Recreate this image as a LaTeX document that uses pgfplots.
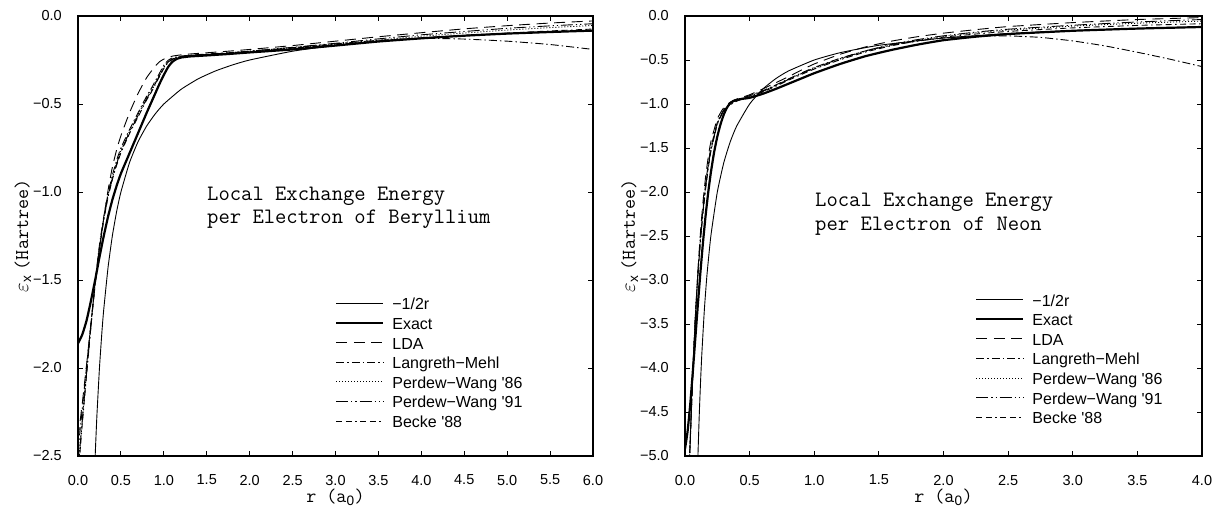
\documentclass[border=0pt]{standalone}
\usepackage{pgfplots}
\pgfplotsset{compat=1.18}
\usepackage{fontspec}
\setmainfont{Liberation Sans}[Ligatures=TeXOff]

\tikzset{
  halfr/.style={line width=0.9pt, solid},
  exact/.style={line width=2.2pt, solid},
  lda/.style={line width=0.9pt, dash pattern=on 11pt off 6.5pt},
  lm/.style={line width=0.9pt, dash pattern=on 8pt off 3pt on 1.5pt off 3pt},
  pw86/.style={line width=0.9pt, dash pattern=on 1pt off 2pt},
  pw91/.style={line width=0.9pt, dash pattern=on 12pt off 3pt on 1.2pt off 3pt on 1.2pt off 3pt},
  b88/.style={line width=0.9pt, dash pattern=on 6pt off 3.5pt on 6pt off 3.5pt on 1.5pt off 3.5pt},
  note/.style={anchor=base west, inner sep=0pt, font=\ttfamily\fontsize{22}{24}\selectfont},
}

\pgfplotsset{
  exchange/.style={
    scale only axis, height=440pt,
    axis line style={line width=1.2pt},
    tick align=inside, major tick length=5pt,
    every tick/.style={black, line width=0.9pt},
    tick label style={font=\fontsize{14.5}{17}\selectfont},
    xticklabel style={inner sep=0pt, anchor=north, yshift=-18.8pt},
    yticklabel style={inner sep=0pt, anchor=east, xshift=-16pt},
    every axis plot/.append style={black, smooth, tension=0.3},
    no markers, clip=true,
    every axis y label/.style={at={(axis description cs:-0.107,0.5)}, rotate=90, anchor=center,
      font=\fontsize{19.5}{22}\selectfont},
    every axis x label/.style={at={(axis description cs:0.5,-0.093)}, anchor=center,
      font=\fontsize{19.5}{22}\selectfont},
    ylabel={$\varepsilon$\textsubscript{x} {\ttfamily (Hartree)}},
    xlabel={{\ttfamily r (a}\textsubscript{0}{\ttfamily )}},
    legend cell align=left,
    legend image code/.code={\draw[##1] (0pt,0.36em) -- (47pt,0.36em);},
    legend style={draw=none, fill=none, inner sep=0pt, anchor=north west,
      font=\fontsize{16}{19}\selectfont,
      nodes={inner sep=0pt, text height=12.6pt, text depth=7pt},
      /tikz/every odd column/.append style={column sep=8pt}},
  },
}

\begin{document}
\begin{tikzpicture}
\useasboundingbox (-78pt,-56pt) rectangle (1138pt,456pt);

% ---------------- Beryllium ----------------
\begin{axis}[exchange, width=515pt,
  xmin=0, xmax=6, ymin=-2.5, ymax=0,
  xtick={0,0.5,...,6},
  xticklabels={0.0,0.5,1.0,1.5,2.0,2.5,3.0,3.5,4.0,4.5,5.0,5.5,6.0},
  ytick={-2.5,-2,-1.5,-1,-0.5,0},
  yticklabels={−2.5,−2.0,−1.5,−1.0,−0.5,0.0},
  legend style={at={(rel axis cs:0.499,0.3613)}},
]
\addplot[halfr] coordinates {(0.19,-2.632) (0.2,-2.5) (0.22,-2.273) (0.25,-2.0) (0.28,-1.786) (0.3,-1.667) (0.35,-1.429) (0.4,-1.25) (0.45,-1.111) (0.5,-1.0) (0.6,-0.833) (0.7,-0.714) (0.8,-0.625) (0.9,-0.556) (1.0,-0.5) (1.2,-0.417) (1.4,-0.357) (1.6,-0.3125) (1.8,-0.278) (2.0,-0.25) (2.5,-0.2) (3.0,-0.1667) (3.5,-0.1429) (4.0,-0.125) (4.5,-0.111) (5.0,-0.1) (5.5,-0.0909) (6.0,-0.0833)};
\addlegendentry{−1/2r}
\addplot[exact] coordinates {(0,-1.86) (0.05,-1.81) (0.1,-1.73) (0.15,-1.62) (0.2,-1.50) (0.25,-1.37) (0.3,-1.25) (0.35,-1.14) (0.4,-1.045) (0.45,-0.965) (0.5,-0.895) (0.6,-0.78) (0.7,-0.665) (0.8,-0.55) (0.85,-0.495) (0.9,-0.44) (0.95,-0.385) (1.0,-0.335) (1.05,-0.29) (1.1,-0.26) (1.15,-0.244) (1.2,-0.236) (1.3,-0.23) (1.5,-0.224) (1.75,-0.216) (2.0,-0.207) (2.5,-0.19) (3.0,-0.168) (3.5,-0.145) (4.0,-0.127) (4.5,-0.112) (5.0,-0.100) (5.5,-0.091) (6.0,-0.083)};
\addlegendentry{Exact}
\addplot[lda] coordinates {(0,-2.40) (0.05,-2.20) (0.1,-1.98) (0.15,-1.75) (0.2,-1.53) (0.25,-1.33) (0.3,-1.15) (0.35,-0.99) (0.4,-0.86) (0.45,-0.76) (0.5,-0.68) (0.6,-0.55) (0.7,-0.44) (0.8,-0.35) (0.9,-0.285) (0.95,-0.26) (1.0,-0.245) (1.1,-0.228) (1.25,-0.218) (1.5,-0.209) (1.75,-0.2) (2.0,-0.19) (2.5,-0.168) (3.0,-0.143) (3.5,-0.118) (4.0,-0.095) (4.5,-0.073) (5.0,-0.055) (5.5,-0.04) (6.0,-0.028)};
\addlegendentry{LDA}
\addplot[lm] coordinates {(0,-2.47) (0.05,-2.23) (0.1,-1.99) (0.15,-1.75) (0.2,-1.51) (0.25,-1.30) (0.3,-1.14) (0.35,-1.01) (0.4,-0.905) (0.45,-0.82) (0.5,-0.75) (0.6,-0.645) (0.7,-0.55) (0.8,-0.455) (0.85,-0.415) (0.9,-0.37) (1.0,-0.28) (1.05,-0.252) (1.1,-0.238) (1.2,-0.228) (1.3,-0.223) (1.5,-0.216) (1.75,-0.209) (2.0,-0.2) (2.5,-0.18) (3.0,-0.158) (3.5,-0.138) (4.0,-0.127) (4.5,-0.131) (5.0,-0.143) (5.5,-0.162) (6.0,-0.19)};
\addlegendentry{Langreth−Mehl}
\addplot[pw86] coordinates {(0,-2.56) (0.05,-2.29) (0.1,-2.02) (0.15,-1.76) (0.2,-1.51) (0.25,-1.31) (0.3,-1.15) (0.35,-1.02) (0.4,-0.92) (0.45,-0.835) (0.5,-0.765) (0.6,-0.655) (0.7,-0.56) (0.8,-0.465) (0.85,-0.425) (0.9,-0.38) (1.0,-0.29) (1.05,-0.26) (1.1,-0.243) (1.2,-0.229) (1.3,-0.224) (1.5,-0.217) (1.75,-0.21) (2.0,-0.2) (2.5,-0.18) (3.0,-0.16) (3.5,-0.137) (4.0,-0.115) (4.5,-0.097) (5.0,-0.08) (5.5,-0.066) (6.0,-0.054)};
\addlegendentry{Perdew−Wang '86}
\addplot[pw91] coordinates {(0,-2.58) (0.05,-2.30) (0.1,-2.03) (0.15,-1.765) (0.2,-1.515) (0.25,-1.315) (0.3,-1.155) (0.35,-1.025) (0.4,-0.925) (0.45,-0.84) (0.5,-0.77) (0.6,-0.66) (0.7,-0.565) (0.8,-0.47) (0.85,-0.43) (0.9,-0.385) (1.0,-0.293) (1.05,-0.262) (1.1,-0.245) (1.2,-0.23) (1.3,-0.225) (1.5,-0.218) (1.75,-0.21) (2.0,-0.2) (2.5,-0.178) (3.0,-0.155) (3.5,-0.13) (4.0,-0.107) (4.5,-0.088) (5.0,-0.07) (5.5,-0.056) (6.0,-0.044)};
\addlegendentry{Perdew−Wang '91}
\addplot[b88] coordinates {(0,-2.62) (0.05,-2.32) (0.1,-2.04) (0.15,-1.77) (0.2,-1.52) (0.25,-1.32) (0.3,-1.16) (0.35,-1.03) (0.4,-0.93) (0.45,-0.848) (0.5,-0.778) (0.6,-0.668) (0.7,-0.573) (0.8,-0.477) (0.85,-0.437) (0.9,-0.39) (1.0,-0.298) (1.05,-0.265) (1.1,-0.247) (1.2,-0.232) (1.3,-0.226) (1.5,-0.219) (1.75,-0.212) (2.0,-0.203) (2.5,-0.183) (3.0,-0.163) (3.5,-0.143) (4.0,-0.125) (4.5,-0.11) (5.0,-0.097) (5.5,-0.085) (6.0,-0.074)};
\addlegendentry{Becke '88}
\node[note] at (rel axis cs:0.2505,0.5818) {Local Exchange Energy};
\node[note] at (rel axis cs:0.2505,0.5295) {per Electron of Beryllium};
\end{axis}

% ---------------- Neon ----------------
\begin{axis}[exchange, width=517pt, at={(607pt,0pt)},
  xmin=0, xmax=4, ymin=-5, ymax=0,
  xtick={0,0.5,...,4},
  xticklabels={0.0,0.5,1.0,1.5,2.0,2.5,3.0,3.5,4.0},
  ytick={-5,-4.5,-4,-3.5,-3,-2.5,-2,-1.5,-1,-0.5,0},
  yticklabels={−5.0,−4.5,−4.0,−3.5,−3.0,−2.5,−2.0,−1.5,−1.0,−0.5,0.0},
  legend style={at={(rel axis cs:0.561,0.370)}},
]
\addplot[halfr] coordinates {(0.095,-5.263) (0.1,-5.0) (0.11,-4.545) (0.12,-4.167) (0.13,-3.846) (0.15,-3.333) (0.17,-2.941) (0.2,-2.5) (0.25,-2.0) (0.3,-1.667) (0.35,-1.429) (0.4,-1.25) (0.5,-1.0) (0.6,-0.833) (0.7,-0.714) (0.8,-0.625) (1.0,-0.5) (1.2,-0.417) (1.5,-0.333) (2.0,-0.25) (2.5,-0.2) (3.0,-0.1667) (3.5,-0.1429) (4.0,-0.125)};
\addlegendentry{−1/2r}
\addplot[exact] coordinates {(0,-4.92) (0.02,-4.72) (0.04,-4.42) (0.06,-4.05) (0.08,-3.66) (0.1,-3.27) (0.12,-2.9) (0.14,-2.56) (0.16,-2.26) (0.18,-2.0) (0.2,-1.78) (0.225,-1.55) (0.25,-1.37) (0.275,-1.23) (0.3,-1.12) (0.325,-1.04) (0.35,-0.99) (0.375,-0.965) (0.4,-0.952) (0.45,-0.94) (0.5,-0.93) (0.6,-0.885) (0.7,-0.83) (0.8,-0.77) (0.9,-0.71) (1.0,-0.65) (1.2,-0.545) (1.4,-0.455) (1.6,-0.385) (1.8,-0.325) (2.0,-0.275) (2.25,-0.235) (2.5,-0.205) (3.0,-0.168) (3.5,-0.143) (4.0,-0.125)};
\addlegendentry{Exact}
\addplot[lda] coordinates {(0,-6.3) (0.02,-5.6) (0.04,-4.85) (0.06,-4.1) (0.08,-3.45) (0.1,-2.9) (0.12,-2.45) (0.14,-2.1) (0.16,-1.82) (0.18,-1.6) (0.2,-1.43) (0.25,-1.17) (0.3,-1.04) (0.35,-0.98) (0.4,-0.945) (0.45,-0.92) (0.5,-0.895) (0.6,-0.83) (0.7,-0.76) (0.8,-0.69) (0.9,-0.615) (1.0,-0.545) (1.2,-0.435) (1.4,-0.35) (1.6,-0.285) (1.8,-0.235) (2.0,-0.195) (2.25,-0.155) (2.5,-0.12) (3.0,-0.075) (3.5,-0.04) (4.0,-0.018)};
\addlegendentry{LDA}
\addplot[lm] coordinates {(0,-6.2) (0.02,-5.55) (0.04,-4.8) (0.06,-4.05) (0.08,-3.42) (0.1,-2.9) (0.12,-2.5) (0.14,-2.17) (0.16,-1.9) (0.18,-1.68) (0.2,-1.5) (0.25,-1.21) (0.3,-1.065) (0.35,-0.995) (0.4,-0.955) (0.45,-0.93) (0.5,-0.905) (0.6,-0.85) (0.7,-0.785) (0.8,-0.715) (0.9,-0.648) (1.0,-0.585) (1.2,-0.48) (1.4,-0.395) (1.6,-0.33) (1.8,-0.285) (2.0,-0.25) (2.25,-0.23) (2.5,-0.226) (2.75,-0.243) (3.0,-0.283) (3.25,-0.34) (3.5,-0.412) (3.75,-0.49) (4.0,-0.575)};
\addlegendentry{Langreth−Mehl}
\addplot[pw86] coordinates {(0,-6.5) (0.02,-5.7) (0.04,-4.85) (0.06,-4.05) (0.08,-3.4) (0.1,-2.92) (0.12,-2.52) (0.14,-2.2) (0.16,-1.93) (0.18,-1.7) (0.2,-1.52) (0.25,-1.22) (0.3,-1.07) (0.35,-1.0) (0.4,-0.96) (0.45,-0.935) (0.5,-0.91) (0.6,-0.855) (0.7,-0.79) (0.8,-0.72) (0.9,-0.655) (1.0,-0.595) (1.2,-0.49) (1.4,-0.4) (1.6,-0.33) (1.8,-0.275) (2.0,-0.232) (2.25,-0.19) (2.5,-0.16) (3.0,-0.115) (3.5,-0.082) (4.0,-0.058)};
\addlegendentry{Perdew−Wang '86}
\addplot[pw91] coordinates {(0,-6.45) (0.02,-5.68) (0.04,-4.84) (0.06,-4.06) (0.08,-3.42) (0.1,-2.93) (0.12,-2.53) (0.14,-2.21) (0.16,-1.94) (0.18,-1.71) (0.2,-1.53) (0.25,-1.225) (0.3,-1.075) (0.35,-1.005) (0.4,-0.963) (0.45,-0.937) (0.5,-0.912) (0.6,-0.857) (0.7,-0.792) (0.8,-0.722) (0.9,-0.655) (1.0,-0.592) (1.2,-0.485) (1.4,-0.395) (1.6,-0.322) (1.8,-0.268) (2.0,-0.225) (2.25,-0.183) (2.5,-0.15) (3.0,-0.105) (3.5,-0.068) (4.0,-0.04)};
\addlegendentry{Perdew−Wang '91}
\addplot[b88] coordinates {(0,-6.6) (0.02,-5.75) (0.04,-4.88) (0.06,-4.08) (0.08,-3.43) (0.1,-2.95) (0.12,-2.55) (0.14,-2.23) (0.16,-1.96) (0.18,-1.73) (0.2,-1.54) (0.25,-1.23) (0.3,-1.08) (0.35,-1.01) (0.4,-0.968) (0.45,-0.942) (0.5,-0.918) (0.6,-0.865) (0.7,-0.8) (0.8,-0.73) (0.9,-0.665) (1.0,-0.603) (1.2,-0.497) (1.4,-0.408) (1.6,-0.338) (1.8,-0.283) (2.0,-0.24) (2.25,-0.205) (2.5,-0.175) (3.0,-0.135) (3.5,-0.107) (4.0,-0.088)};
\addlegendentry{Becke '88}
\node[note] at (rel axis cs:0.2515,0.566) {Local Exchange Energy};
\node[note] at (rel axis cs:0.2515,0.5136) {per Electron of Neon};
\end{axis}
\end{tikzpicture}
\end{document}
